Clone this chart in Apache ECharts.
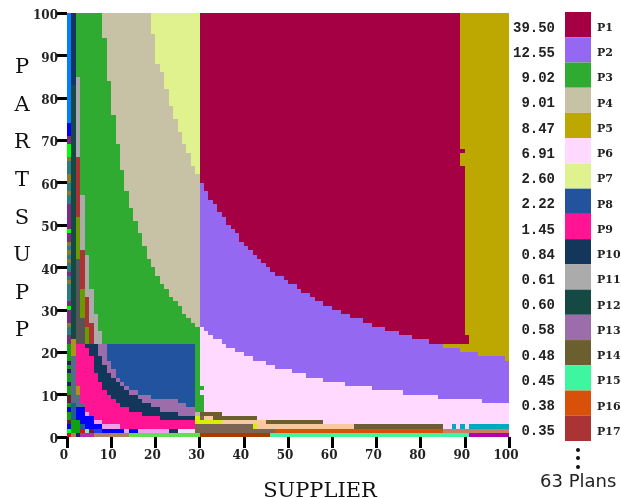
<!DOCTYPE html>
<html><head><meta charset="utf-8">
<style>html,body{margin:0;padding:0;background:#fff}#c{width:621px;height:498px}</style>
<script src="https://cdn.jsdelivr.net/npm/echarts@6/dist/echarts.min.js"></script>
</head><body><div id="c"></div>
<script>
const plans=['P1','P2','P3','P4','P5','P6','P7','P8','P9','P10','P11','P12','P13','P14','P15','P16','P17'];
const shares=['39.50','12.55','9.02','9.01','8.47','6.91','2.60','2.22','1.45','0.84','0.61','0.60','0.58','0.48','0.45','0.38','0.35'];
const planColors=['#a50044','#9468f0','#30ab32','#c7c2a5','#bca800','#ffd9ff','#dff28e','#22539f','#ff1493','#12375a','#ababab','#154a44','#9c6cab','#6b5f30','#3ef5a0','#d9500a','#ab3333'];
const minorColors={sky:'#0080ff',blue:'#0000ff',royal:'#1e3cf0',plum:'#7e2a82',lime:'#00ff00',tan:'#8a7a30',teal:'#2e7a80',gold:'#b09020',green:'#11a011',maroon:'#6a2030',navy:'#20206a',red:'#e01010',olive:'#6a9a00',slate:'#555555',steel:'#5a6a8a',sea:'#20608a',lilac:'#f0a0e8',salmon:'#c88060',peach:'#f8c8a0',yellow:'#d8f000',umber:'#7a6555',mauve:'#b030b0',clay:'#b08060',grass:'#60e050',rust:'#a83c00',violet:'#b000b0',cyan:'#00a8c0',pale:'#f4e0f0',aqua:'#90e0e0',grey:'#b8b8b8'};
// Boundaries per supplier column, in PARTSUPP percent
const p2Top=[60,58,56,55,53,52,50,49,48,46,45,44,43,42,41,40,39,38,38,37,36,36,35,34,34,33,32,32,31,31,30,30,29,29,28,28,28,27,27,26,26,26,25,25,25,24,24,24,23,23,23,23,22,22,22,21,21,21,21,20,20,20,20,19,19,19,19,19,19,18];
const p6Top=[26,25,24,23,23,22,21,21,20,20,19,19,18,18,18,17,17,16,16,16,16,15,15,15,14,14,14,14,13,13,13,13,13,12,12,12,12,12,12,11,11,11,11,11,11,11,10,10,10,10,10,10,10,10,9,9,9,9,9,9,9,9,9,9,8,8,8,8,8,8];
const p1Right=[[22,24,91],[24,64,90],[64,67,89],[67,68,90],[68,100,89]];
const p4Start=[94,84,76,69,63,58,54,51,48,45,42,40,38,36,35,33,32,31,29,28,27,26];
const p7Start=[95,88,86,82,78,75,72,69,67,64,62];
const p9Bottom=[12,7,6,5,4,4,3,3,3,3,2,2,2,2,2,2,2,2,2,2,2,2,2,2,2,2,2];
const p9Top=[22,22,21,19,15,13,11,10,9,8,7,7,6,6,6,5,5,5,5,4,4,4,4,4,4,4,4];
const p10Top=[22,22,22,22,22,19,17,15,14,13,12,11,10,10,9,8,8,7,7,6,6,6,6,5,5,5,5];
const p13Top=[22,22,22,22,22,22,22,18,16,14,13,12,11,11,10,10,10,9,9,9,9,9,9,8,8,7,7];
// Small plans: [plan, sFrom, sTo, pFrom, pTo]
const col0=[['red',0,1],['lime',1,2],['blue',2,3],['maroon',3,4],['green',4,6],['blue',6,7],['green',7,8],['maroon',8,10],['green',10,12],['navy',12,13],['green',13,15],['navy',15,16],['green',16,17],['navy',17,18],['green',18,22],['plum',22,24],['teal',24,26],['tan',26,27],['plum',27,30],['lime',30,31],['plum',31,32],['teal',32,36],['tan',36,37],['teal',37,38],['plum',38,39],['teal',39,41],['tan',41,42],['teal',42,43],['tan',43,44],['teal',44,45],['tan',45,46],['plum',46,48],['lime',48,49],['plum',49,55],['teal',55,57],['tan',57,58],['teal',58,60],['tan',60,62],['teal',62,65],['tan',65,66],['lime',66,69],['plum',69,71],['blue',71,74],['sky',74,100]];
const patches=[
['P10',1,2,83,100],['P12',1,2,23,83],['gold',1,2,19,23],['steel',1,2,8,19],['sea',1,2,4,8],['green',1,2,1,4],['clay',1,2,0,1],
['P11',2,3,66,85],['P17',2,3,52,66],['olive',2,3,42,52],['slate',2,3,22,42],['gold',2,3,10,12],['steel',2,3,7,10],['blue',2,4,4,7],['green',2,3,1,4],['navy',2,3,0,1],
['P11',3,4,44,57],['P17',3,4,35,44],['olive',3,4,28,35],['slate',3,4,22,28],['steel',3,4,7,8],['blue',3,6,3,4],['sea',3,4,2,3],['green',3,4,1,2],['mauve',3,6,0,1],
['P11',4,5,33,43],['P17',4,5,26,33],['olive',4,5,22,26],['P11',5,6,27,35],['P17',5,6,22,27],['P11',6,7,22,29],['P11',7,8,22,25],
['blue',4,6,4,5],['lilac',4,5,5,6],['blue',4,8,2,3],['lilac',6,8,3,4],['lilac',8,12,2,3],
['red',3,4,1,2],['aqua',4,5,1,2],['maroon',5,6,1,2],['royal',6,8,1,2],['blue',8,13,1,2],['lilac',13,14,1,2],['blue',14,16,1,2],['lilac',16,23,1,2],['P10',23,25,1,2],['pale',25,29,1,2],
['clay',6,14,0,1],['grass',14,30,0,1],
['P3',30,31,11,12],['P3',30,31,6,10],['grey',29,31,5,6],
['yellow',29,35,3,4],['peach',35,45,3,4],['P14',45,58,3,4],
['yellow',29,30,4,5],['umber',30,31,4,5],['peach',31,33,4,5],['P14',33,43,4,5],['P14',30,35,5,6],
['umber',29,42,2,3],['yellow',42,43,2,3],['peach',43,65,2,3],['P14',65,85,2,3],['cyan',87,88,2,3],['cyan',89,90,2,3],['cyan',91,100,2,3],
['umber',29,47,1,2],['P16',47,85,1,2],['salmon',85,100,1,2],
['rust',30,46,0,1],['P15',46,91,0,1],['violet',91,100,0,1]
];
const xTicks=[0,100,10], yTicks=[0,100,10];

// Build cell map from the arrays above
const cells=Array.from({length:100},()=>new Array(100).fill('P3'));
function paint(k,s0,s1,p0,p1){for(let s=s0;s<s1;s++)for(let p=p0;p<p1;p++)cells[s][p]=k;}
for(let s=30;s<100;s++){
  const i=s-30;
  paint('P6',s,s+1,0,p6Top[i]);
  paint('P2',s,s+1,p6Top[i],p2Top[i]);
  paint('P5',s,s+1,p2Top[i],100);
}
p1Right.forEach(([a,b,r])=>{for(let p=a;p<b;p++){for(let s=30;s<r;s++){if(p>=p2Top[s-30])cells[s][p]='P1';}}});
p4Start.forEach((v,i)=>paint('P4',8+i,9+i,v,100));
p7Start.forEach((v,i)=>paint('P7',19+i,20+i,v,100));
for(let i=0;i<p9Top.length;i++){
  const s=2+i;
  paint('P8',s,s+1,p13Top[i],22);
  paint('P13',s,s+1,p10Top[i],p13Top[i]);
  paint('P10',s,s+1,p9Top[i],p10Top[i]);
  paint('P9',s,s+1,p9Bottom[i],p9Top[i]);
}
col0.forEach(([k,a,b])=>paint(k,0,1,a,b));
patches.forEach(([k,a,b,c,d])=>paint(k,a,b,c,d));
const colorOf=k=>{const i=plans.indexOf(k);return i>=0?planColors[i]:minorColors[k];};
const runs=[];
for(let s=0;s<100;s++){let start=0;for(let p=1;p<=100;p++){if(p===100||cells[s][p]!==cells[s][start]){runs.push([s,start,s+1,p,colorOf(cells[s][start])]);start=p;}}}

const mono='"Liberation Mono",monospace';
const serif='"DejaVu Serif",serif';
const chart=echarts.init(document.getElementById('c'),null,{renderer:'canvas'});
chart.setOption({
  animation:false,
  grid:[{left:67,top:13,width:442,height:424,outerBoundsMode:'none'},{left:565,top:12,width:26,height:429,outerBoundsMode:'none'}],
  xAxis:[
    {type:'value',min:xTicks[0],max:xTicks[1],interval:xTicks[2],gridIndex:0,splitLine:{show:false},axisLine:{show:false},
      axisTick:{length:11,lineStyle:{color:'#000',width:3}},
      axisLabel:{color:'#222',fontFamily:serif,fontWeight:'bold',fontSize:12,margin:13,padding:[0,6,0,0]},
      name:'SUPPLIER',nameLocation:'middle',nameGap:44,nameTextStyle:{color:'#111',fontFamily:serif,fontSize:21,padding:[0,0,0,64]}},
    {type:'value',min:0,max:1,gridIndex:1,show:false}
  ],
  yAxis:[
    {type:'value',min:yTicks[0],max:yTicks[1],interval:yTicks[2],gridIndex:0,splitLine:{show:false},axisLine:{show:false},
      axisTick:{length:10,lineStyle:{color:'#000',width:3}},
      axisLabel:{color:'#222',fontFamily:serif,fontWeight:'bold',fontSize:12,margin:9,verticalAlign:'top',padding:[-3,0,0,0]},
      name:'PARTSUPP'.split('').join('\n'),nameLocation:'middle',nameRotate:0,nameGap:45,nameMoveOverlap:false,
      nameTextStyle:{color:'#111',fontFamily:serif,fontSize:21,lineHeight:37.6,align:'center',verticalAlign:'top',padding:[-176,0,0,0]}},
    {type:'category',data:plans,inverse:true,gridIndex:1,position:'right',axisLine:{show:false},axisTick:{show:false},
      axisLabel:{color:'#222',fontFamily:serif,fontWeight:'bold',fontSize:11,margin:6,interval:0,verticalAlign:'top',padding:[-2,0,0,0]}}
  ],
  series:[
    {type:'custom',xAxisIndex:0,yAxisIndex:0,data:runs,clip:true,encode:{x:[0,2],y:[1,3]},
     renderItem:(params,api)=>{
       const a=api.coord([api.value(0),api.value(1)]),b=api.coord([api.value(2),api.value(3)]);
       const x0=Math.round(a[0]),x1=Math.round(b[0]),y0=Math.round(a[1]),y1=Math.round(b[1]);
       return {type:'rect',shape:{x:x0,y:y1,width:x1-x0,height:y0-y1},style:{fill:runs[params.dataIndex][4]}};
     }},
    {type:'bar',xAxisIndex:1,yAxisIndex:1,barWidth:'100%',
     data:plans.map((_,i)=>({value:1,itemStyle:{color:planColors[i]}})),
     label:{show:true,position:'left',distance:10,offset:[0,3.5],color:'#222',fontFamily:mono,fontWeight:'bold',fontSize:14,formatter:p=>shares[p.dataIndex]}}
  ],
  graphic:[
    {type:'circle',shape:{cx:578,cy:450,r:2},style:{fill:'#111'}},
    {type:'circle',shape:{cx:578,cy:458,r:2},style:{fill:'#111'}},
    {type:'circle',shape:{cx:578,cy:467,r:2},style:{fill:'#111'}},
    {type:'text',left:540,top:473,style:{text:'63 Plans',font:'18px "DejaVu Sans"',fill:'#222'}}
  ]
});
</script></body></html>
